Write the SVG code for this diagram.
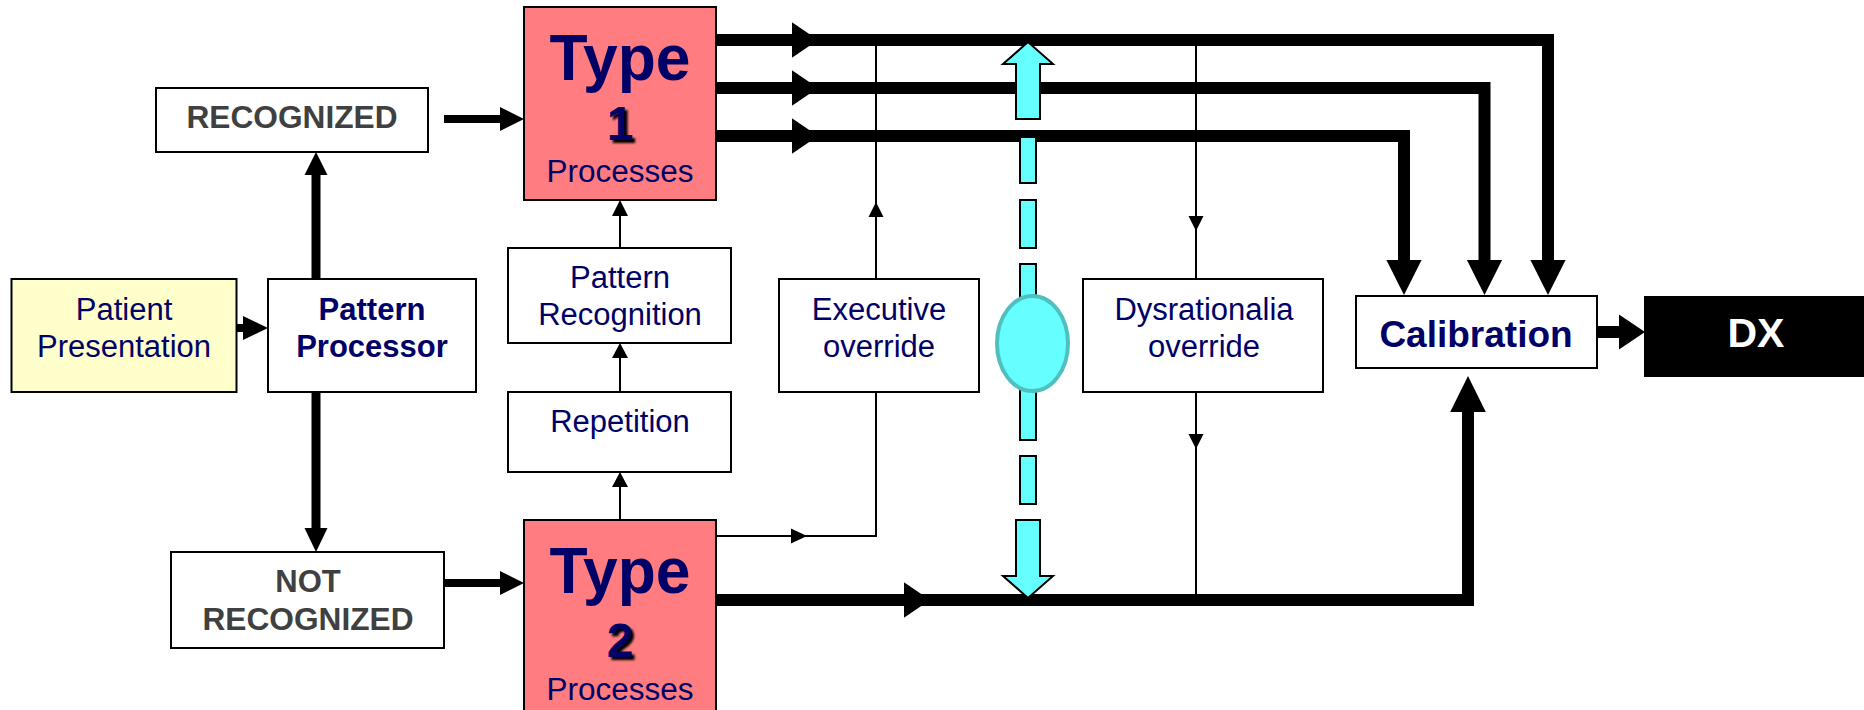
<svg xmlns="http://www.w3.org/2000/svg" width="1864" height="710" viewBox="0 0 1864 710">
<style>
.box{fill:#FFFFFF;stroke:#000;stroke-width:2}
.t{font-family:"Liberation Sans",Arial,sans-serif;font-size:31px;fill:#000066;text-anchor:middle}
.b{font-weight:bold}
.g{fill:#404040}
.thick{fill:none;stroke:#000;stroke-width:12;stroke-linejoin:miter}
.med{fill:none;stroke:#000;stroke-width:8}
.thin{fill:none;stroke:#000;stroke-width:2}
.head{fill:#000;stroke:none}
.cyan{fill:#66FFFF;stroke:#000;stroke-width:2}
.dig{font-size:48px}
</style>
<defs>
<filter id="sh" x="-30%" y="-30%" width="160%" height="160%">
<feGaussianBlur stdDeviation="1.2"/>
</filter>
</defs>
<rect width="1864" height="710" fill="#FFFFFF"/>

<g id="connectors">
<!-- Patient -> Pattern Processor -->
<line class="med" x1="236" y1="328" x2="246" y2="328"/>
<polygon class="head" points="243,316 268,328 243,340"/>
<!-- Pattern Processor -> RECOGNIZED -->
<line class="med" x1="316" y1="279" x2="316" y2="172" style="stroke-width:9"/>
<polygon class="head" points="304.5,175 316,152 327.5,175"/>
<!-- Pattern Processor -> NOT RECOGNIZED -->
<line class="med" x1="316" y1="392" x2="316" y2="531" style="stroke-width:9"/>
<polygon class="head" points="304.5,528 316,552 327.5,528"/>
<!-- RECOGNIZED -> Type 1 -->
<line class="med" x1="444" y1="119" x2="503" y2="119"/>
<polygon class="head" points="500,107 524,119 500,131"/>
<!-- NOT RECOGNIZED -> Type 2 -->
<line class="med" x1="444" y1="583" x2="503" y2="583"/>
<polygon class="head" points="500,571 524,583 500,595"/>
<!-- Type 2 -> Repetition -> Pattern Recognition -> Type 1 -->
<line class="thin" x1="620" y1="520" x2="620" y2="485"/>
<polygon class="head" points="612,487 620,472 628,487"/>
<line class="thin" x1="620" y1="392" x2="620" y2="357"/>
<polygon class="head" points="612,358 620,343 628,358"/>
<line class="thin" x1="620" y1="248" x2="620" y2="214"/>
<polygon class="head" points="612,216 620,200 628,216"/>
<!-- Type 1 -> Calibration (three thick lines) -->
<path class="thick" d="M716,40 H1548 V262"/>
<path class="thick" d="M716,88 H1484.5 V262"/>
<path class="thick" d="M716,136 H1404 V262"/>
<polygon class="head" points="792,22.3 818,40 792,57.7"/>
<polygon class="head" points="792,70.3 818,88 792,105.7"/>
<polygon class="head" points="792,118.3 818,136 792,153.7"/>
<polygon class="head" points="1530.4,260 1548,295 1565.6,260"/>
<polygon class="head" points="1466.9,260 1484.5,295 1502.1,260"/>
<polygon class="head" points="1386.4,260 1404,295 1421.6,260"/>
<!-- Executive override -->
<line class="thin" x1="876" y1="279" x2="876" y2="40"/>
<polygon class="head" points="868.5,217 876,202 883.5,217"/>
<path class="thin" d="M876,392 V536 H716"/>
<polygon class="head" points="791,528.5 807,536 791,543.5"/>
<!-- Dysrationalia override -->
<line class="thin" x1="1196" y1="40" x2="1196" y2="279"/>
<polygon class="head" points="1188.5,216 1196,231 1203.5,216"/>
<line class="thin" x1="1196" y1="392" x2="1196" y2="596"/>
<polygon class="head" points="1188.5,434 1196,449 1203.5,434"/>
<!-- Type 2 -> Calibration -->
<path class="thick" d="M716,600 H1468 V410"/>
<polygon class="head" points="904,582.3 930,600 904,617.7"/>
<polygon class="head" points="1450.2,412 1468,376 1485.8,412"/>
<!-- Calibration -> DX -->
<line class="thick" x1="1597" y1="332" x2="1622" y2="332"/>
<polygon class="head" points="1619,314.5 1645,332 1619,349.5"/>
</g>

<g id="toggle">
<polygon class="cyan" points="1016,119 1016,64 1003,64 1028,42 1053,64 1040,64 1040,119"/>
<rect class="cyan" x="1020" y="137" width="16" height="46"/>
<rect class="cyan" x="1020" y="200" width="16" height="48"/>
<rect class="cyan" x="1020" y="264" width="16" height="50"/>
<rect class="cyan" x="1020" y="372" width="16" height="68"/>
<rect class="cyan" x="1020" y="456" width="16" height="48"/>
<polygon class="cyan" points="1016,520 1016,576 1003,576 1028,598 1053,576 1040,576 1040,520"/>
<ellipse cx="1032.5" cy="343.5" rx="35.5" ry="47.5" fill="#66FFFF" stroke="#4FBFBF" stroke-width="4"/>
</g>

<g id="patient">
<rect x="11.5" y="279" width="225" height="113" fill="#FFFFCC" stroke="#000" stroke-width="2"/>
<text class="t" x="124" y="320">Patient</text>
<text class="t" x="124" y="357">Presentation</text>
</g>

<g id="pattern-processor">
<rect class="box" x="268" y="279" width="208" height="113"/>
<text class="t b" x="372" y="320">Pattern</text>
<text class="t b" x="372" y="357">Processor</text>
</g>

<g id="recognized">
<rect class="box" x="156" y="88" width="272" height="64"/>
<text class="t b g" x="292" y="128" textLength="211" lengthAdjust="spacingAndGlyphs">RECOGNIZED</text>
</g>

<g id="not-recognized">
<rect class="box" x="171" y="552" width="273" height="96"/>
<text class="t b g" x="308" y="592">NOT</text>
<text class="t b g" x="308" y="630" textLength="211" lengthAdjust="spacingAndGlyphs">RECOGNIZED</text>
</g>

<g id="type1">
<rect x="524" y="7" width="192" height="193" fill="#FF7C80" stroke="#000" stroke-width="2"/>
<text class="t b" x="620" y="80" style="font-size:64px" textLength="141" lengthAdjust="spacingAndGlyphs">Type</text>
<text class="t b dig" x="623" y="143" style="fill:#000" filter="url(#sh)">1</text>
<text class="t b dig" x="620" y="140">1</text>
<text class="t" x="620" y="182" textLength="147" lengthAdjust="spacingAndGlyphs">Processes</text>
</g>

<g id="type2">
<rect x="524" y="520" width="192" height="200" fill="#FF7C80" stroke="#000" stroke-width="2"/>
<text class="t b" x="620" y="593" style="font-size:64px" textLength="141" lengthAdjust="spacingAndGlyphs">Type</text>
<text class="t b dig" x="623" y="660" style="fill:#000" filter="url(#sh)">2</text>
<text class="t b dig" x="620" y="657">2</text>
<text class="t" x="620" y="700" textLength="147" lengthAdjust="spacingAndGlyphs">Processes</text>
</g>

<g id="pattern-recognition">
<rect class="box" x="508" y="248" width="223" height="95"/>
<text class="t" x="620" y="288">Pattern</text>
<text class="t" x="620" y="325">Recognition</text>
</g>

<g id="repetition">
<rect class="box" x="508" y="392" width="223" height="80"/>
<text class="t" x="620" y="432">Repetition</text>
</g>

<g id="executive-override">
<rect class="box" x="779" y="279" width="200" height="113"/>
<text class="t" x="879" y="320">Executive</text>
<text class="t" x="879" y="357">override</text>
</g>

<g id="dysrationalia-override">
<rect class="box" x="1083" y="279" width="240" height="113"/>
<text class="t" x="1204" y="320">Dysrationalia</text>
<text class="t" x="1204" y="357">override</text>
</g>

<g id="calibration">
<rect class="box" x="1356" y="296" width="241" height="72"/>
<text class="t b" x="1476" y="347" style="font-size:37px">Calibration</text>
</g>

<g id="dx">
<rect x="1644" y="296" width="222" height="81" fill="#000"/>
<text class="t b" x="1756" y="347" style="font-size:41px;fill:#FFFFFF">DX</text>
</g>
</svg>
